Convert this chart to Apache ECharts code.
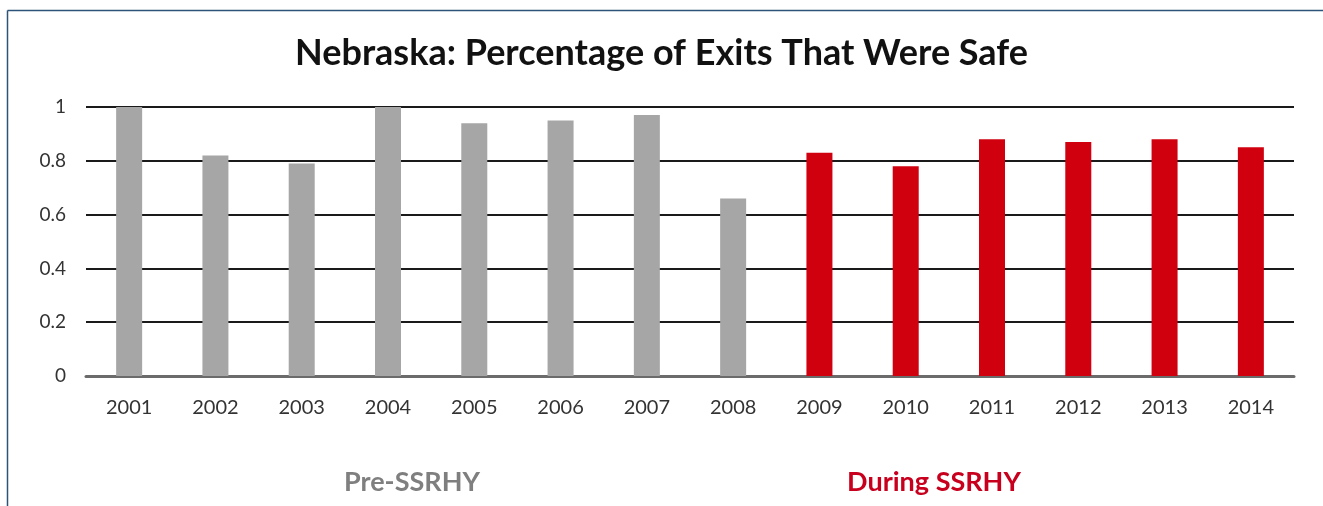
<!DOCTYPE html>
<html>
<head>
<meta charset="utf-8">
<script src="https://cdn.jsdelivr.net/npm/echarts@6/dist/echarts.min.js"></script>
<style>
html,body{margin:0;padding:0;background:#fff;}
#chart{width:1323px;height:506px;}
</style>
</head>
<body>
<div id="chart"></div>
<script>
const years = ['2001','2002','2003','2004','2005','2006','2007','2008','2009','2010','2011','2012','2013','2014'];
const safeShare = [1.00, 0.82, 0.79, 1.00, 0.94, 0.95, 0.97, 0.66, 0.83, 0.78, 0.88, 0.87, 0.88, 0.85];
const phase = ['pre','pre','pre','pre','pre','pre','pre','pre','during','during','during','during','during','during'];
const yTicks = [0, 0.2, 0.4, 0.6, 0.8, 1];
const phaseLabels = ['Pre-SSRHY', 'During SSRHY'];

const GRAY = '#a6a6a6';
const RED = '#d0000f';
const FONT = 'Lato, "Open Sans", sans-serif';

const chart = echarts.init(document.getElementById('chart'), null, {renderer: 'canvas'});
chart.setOption({
  backgroundColor: '#ffffff',
  animation: false,
  title: [
    {
      text: 'Nebraska: Percentage of Exits That Were Safe',
      left: 'center', top: 30,
      textStyle: {fontFamily: FONT, fontSize: 36, fontWeight: 'bold', color: '#111'}
    },
    {
      text: phaseLabels[0], left: 407, top: 464, textAlign: 'center',
      textStyle: {fontFamily: FONT, fontSize: 27, fontWeight: 'bold', color: '#7f7f7f'}
    },
    {
      text: phaseLabels[1], left: 929, top: 464, textAlign: 'center',
      textStyle: {fontFamily: FONT, fontSize: 27, fontWeight: 'bold', color: '#c8001e'}
    }
  ],
  graphic: [
    {type: 'line', shape: {x1: 7.5, y1: 10.5, x2: 1323, y2: 10.5}, style: {stroke: '#2d5378', lineWidth: 1.5}},
    {type: 'line', shape: {x1: 7.5, y1: 10.5, x2: 7.5, y2: 506}, style: {stroke: '#2d5378', lineWidth: 1.5}}
  ],
  grid: {left: 86, right: 29, top: 107, bottom: 130, containLabel: false},
  xAxis: {
    type: 'category',
    data: years,
    axisTick: {show: false},
    axisLine: {show: true, lineStyle: {color: '#6b6b6b', width: 3}},
    axisLabel: {margin: 22, fontFamily: FONT, fontSize: 20, color: '#333'}
  },
  yAxis: {
    type: 'value',
    min: yTicks[0], max: yTicks[yTicks.length - 1], interval: 0.2,
    axisLine: {show: false},
    axisTick: {show: false},
    splitLine: {lineStyle: {color: '#1a1a1a', width: 2}},
    axisLabel: {margin: 20, fontFamily: FONT, fontSize: 19, color: '#333',
      formatter: v => String(Math.round(v * 10) / 10)}
  },
  series: [{
    type: 'bar',
    data: safeShare.map((v, i) => ({value: v, itemStyle: {color: phase[i] === 'pre' ? GRAY : RED}})),
    barWidth: 26,
    z: 3
  }]
});
</script>
</body>
</html>
